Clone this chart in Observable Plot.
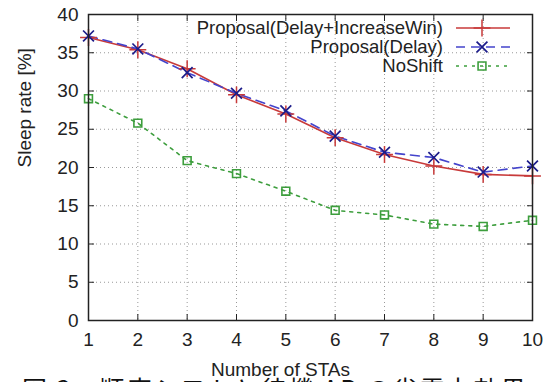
<!DOCTYPE html>
<html>
<head>
<meta charset="utf-8">
<script src="https://cdn.jsdelivr.net/npm/d3@7"></script>
<script src="https://cdn.jsdelivr.net/npm/@observablehq/plot@0.6"></script>
<style>
  html, body { margin: 0; padding: 0; background: #fff; overflow: hidden; }
  #wrap { position: relative; width: 550px; height: 382px; overflow: hidden; }
  #caption { position: absolute; left: 22px; top: 373px; font-family: "Noto Sans CJK JP", sans-serif; font-size: 25px; letter-spacing: 2px; line-height: 30px; color: #111; white-space: nowrap; }
</style>
</head>
<body>
<div id="wrap"><div id="chart"></div><div id="caption">図 3　順序シフトと待機 AP の省電力効果</div></div>
<script>
const stas = [1, 2, 3, 4, 5, 6, 7, 8, 9, 10];
const seriesNames = ["Proposal(Delay+IncreaseWin)", "Proposal(Delay)", "NoShift"];
const delayIncreaseWin = [37.0, 35.4, 32.9, 29.5, 27.0, 23.9, 21.7, 20.2, 19.1, 18.9];
const delayOnly = [37.2, 35.5, 32.4, 29.7, 27.4, 24.1, 22.0, 21.3, 19.4, 20.2];
const noShift = [29.0, 25.8, 20.9, 19.2, 16.9, 14.4, 13.8, 12.6, 12.3, 13.1];
const yTicks = [0, 5, 10, 15, 20, 25, 30, 35, 40];
const xLabel = "Number of STAs";
const yLabel = "Sleep rate [%]";

const colors = ["#c83a3a", "#4444cc", "#3d9e3d"];
const markColors = ["#c83a3a", "#1c1c8a", "#3d9e3d"];
const dashes = [null, "9,6", "3,5"];
const symbols = ["plus", "times", "square2"];
const rs = [5.5, 5, 5];
const markWidths = [1.5, 1.7, 1.6];

const arrays = [delayIncreaseWin, delayOnly, noShift];
const data = [];
arrays.forEach((arr, si) => arr.forEach((v, i) => data.push({series: seriesNames[si], x: stas[i], y: v, si})));

const lineMarks = [];
[2, 0, 1].forEach(si => {
  const d = data.filter(p => p.si === si);
  lineMarks.push(Plot.line(d, {x: "x", y: "y", stroke: colors[si], strokeWidth: 1.6, strokeDasharray: dashes[si]}));
});
[2, 0, 1].forEach(si => {
  const d = data.filter(p => p.si === si);
  lineMarks.push(Plot.dot(d, {x: "x", y: "y", symbol: symbols[si], r: rs[si], stroke: markColors[si], strokeWidth: markWidths[si], fill: "none"}));
});

const plot = Plot.plot({
  width: 550,
  height: 382,
  marginLeft: 88,
  marginRight: 18,
  marginTop: 14,
  marginBottom: 62,
  style: {fontFamily: "'Liberation Sans', Arial, sans-serif", fontSize: "19px", color: "#222", background: "white"},
  x: {domain: [1, 10]},
  y: {domain: [0, 40]},
  marks: [
    Plot.gridX(stas, {stroke: "#999", strokeOpacity: 1, strokeDasharray: "1,3"}),
    Plot.gridY(yTicks, {stroke: "#999", strokeOpacity: 1, strokeDasharray: "1,3"}),
    Plot.axisX(stas, {anchor: "bottom", tickSize: 0, tickPadding: 12, label: null, fill: "#222"}),
    Plot.axisX(stas, {anchor: "bottom", tickSize: -6, tickFormat: () => "", label: null, stroke: "#222"}),
    Plot.axisX(stas, {anchor: "top", tickSize: -6, tickFormat: () => "", label: null, stroke: "#222"}),
    Plot.axisY(yTicks, {anchor: "left", tickSize: 0, tickPadding: 10, label: null, fill: "#222"}),
    Plot.axisY(yTicks, {anchor: "left", tickSize: -6, tickFormat: () => "", label: null, stroke: "#222"}),
    Plot.axisY(yTicks, {anchor: "right", tickSize: -6, tickFormat: () => "", label: null, stroke: "#222"}),
    Plot.text([yLabel], {frameAnchor: "left", dx: -64, rotate: -90, fill: "#222", fontSize: 19}),
    Plot.text([xLabel], {frameAnchor: "bottom", lineAnchor: "bottom", dx: -30, dy: 55, fill: "#222", fontSize: 19}),
    ...lineMarks,
    Plot.frame({stroke: "#222", strokeWidth: 1.5})
  ]
});

document.getElementById("chart").appendChild(plot);

// Legend inside the top-right corner (gnuplot style)
const xScale = plot.scale("x");
const yScale = plot.scale("y");
const frameRight = xScale.range[1];
const frameTop = yScale.range[1];
const svg = d3.select(plot);
const lg = svg.append("g").attr("font-family", "'Liberation Sans', Arial, sans-serif").attr("font-size", 18.5);
seriesNames.forEach((name, i) => {
  const cy = frameTop + 14 + i * 19;
  lg.append("text").attr("x", frameRight - 89).attr("y", cy).attr("text-anchor", "end").attr("dy", "0.35em").attr("fill", "#222").text(name);
  lg.append("line").attr("x1", frameRight - 76).attr("x2", frameRight - 22).attr("y1", cy).attr("y2", cy)
    .attr("stroke", colors[i]).attr("stroke-width", 1.6).attr("stroke-dasharray", dashes[i]);
  const sym = d3.symbol().type(i === 0 ? d3.symbolPlus : i === 1 ? d3.symbolTimes : d3.symbolSquare2).size(rs[i] * rs[i] * Math.PI)();
  lg.append("path").attr("d", sym).attr("transform", `translate(${frameRight - 50},${cy})`)
    .attr("fill", "none").attr("stroke", markColors[i]).attr("stroke-width", markWidths[i]);
});
</script>
</body>
</html>
